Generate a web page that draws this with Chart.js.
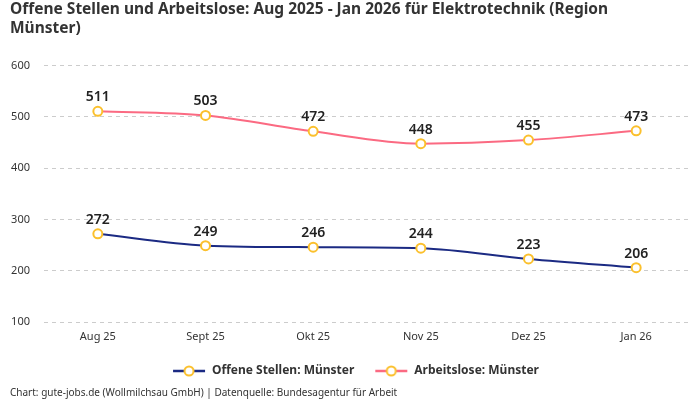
<!DOCTYPE html>
<html>
<head>
<meta charset="utf-8">
<script src="https://cdn.jsdelivr.net/npm/chart.js@4"></script>
<style>
html,body{margin:0;padding:0;background:#fff;}
#wrap{width:700px;height:400px;}
</style>
</head>
<body>
<div id="wrap"><canvas id="c"></canvas></div>
<script>
const categories = ['Aug 25','Sept 25','Okt 25','Nov 25','Dez 25','Jan 26'];
const offeneStellen = [272, 249, 246, 244, 223, 206];
const arbeitslose = [511, 503, 472, 448, 455, 473];
const yTicks = [100, 200, 300, 400, 500, 600];

const FONT = "'Noto Sans', Roboto, sans-serif";
const NAVY = '#1b2a83';
const PINK = '#fb6a82';
const YELLOW = '#fbc02d';
const ICON_MARGIN = 11;

function legendIcon(color){
  const dpr = window.devicePixelRatio || 1;
  const w = 34 + ICON_MARGIN, h = 14;
  const cv = document.createElement('canvas');
  cv.width = w*dpr; cv.height = h*dpr;
  const ctx = cv.getContext('2d');
  ctx.scale(dpr,dpr);
  const x0 = ICON_MARGIN;
  ctx.strokeStyle = color; ctx.lineWidth = 2.5;
  ctx.beginPath(); ctx.moveTo(x0+1,h/2); ctx.lineTo(w-1,h/2); ctx.stroke();
  ctx.fillStyle = '#fff'; ctx.strokeStyle = YELLOW; ctx.lineWidth = 2;
  ctx.beginPath(); ctx.arc(x0+17,h/2,4.5,0,Math.PI*2); ctx.fill(); ctx.stroke();
  const img = new Image(w,h);
  img.src = cv.toDataURL();
  return img;
}

const valueLabels = {
  id:'valueLabels',
  afterDatasetsDraw(chart){
    const ctx = chart.ctx;
    ctx.save();
    ctx.font = "600 14px " + FONT;
    ctx.fillStyle = '#222';
    ctx.textAlign = 'center';
    ctx.textBaseline = 'bottom';
    chart.data.datasets.forEach((ds,i)=>{
      chart.getDatasetMeta(i).data.forEach((pt,j)=>{
        ctx.fillText(String(ds.data[j]), pt.x, pt.y - 7);
      });
    });
    ctx.restore();
  }
};

const iconNavy = legendIcon(NAVY);
const iconPink = legendIcon(PINK);

function build(){
new Chart(document.getElementById('c'), {
  type:'line',
  data:{
    labels: categories,
    datasets:[
      {label:'Offene Stellen: Münster', data: offeneStellen, borderColor: NAVY, backgroundColor: NAVY,
       borderWidth:2, cubicInterpolationMode:'monotone', pointRadius:4.5, pointBorderWidth:2,
       pointBorderColor: YELLOW, pointBackgroundColor:'#fff', pointStyle: 'circle'},
      {label:'Arbeitslose: Münster', data: arbeitslose, borderColor: PINK, backgroundColor: PINK,
       borderWidth:2, cubicInterpolationMode:'monotone', pointRadius:4.5, pointBorderWidth:2,
       pointBorderColor: YELLOW, pointBackgroundColor:'#fff', pointStyle: 'circle'}
    ]
  },
  options:{
    responsive:true, maintainAspectRatio:false, animation:false,
    layout:{padding:{left:10,right:10,top:0,bottom:0}},
    scales:{
      x:{offset:true, grid:{display:false, drawTicks:false}, border:{display:false},
         afterFit(s){ s.paddingLeft = 0; s.paddingRight = 0; s.height = 34; },
         ticks:{color:'#333', font:{family:FONT,size:11}, padding:8}},
      y:{min:100, max:600, afterBuildTicks(ax){ ax.ticks = yTicks.map(v=>({value:v})); },
         afterFit(s){ s.width = 34; },
         grid:{color:'#cccccc', drawTicks:false, tickLength:0}, border:{display:false, dash:[4,4]},
         ticks:{color:'#333', font:{family:FONT,size:11}, padding:14}}
    },
    plugins:{
      title:{display:true, align:'start', color:'#333',
        text:['Offene Stellen und Arbeitslose: Aug 2025 - Jan 2026 für Elektrotechnik (Region','Münster)'],
        font:{family:FONT, size:15.5, weight:'bold', lineHeight:1.25}, padding:{top:0,bottom:27}},
      subtitle:{display:true, position:'bottom', align:'start', color:'#333',
        text:'Chart: gute-jobs.de (Wollmilchsau GmbH) | Datenquelle: Bundesagentur für Arbeit',
        font:{family:FONT,size:10}, padding:{top:0,bottom:1}},
      legend:{position:'bottom', labels:{usePointStyle:true, pointStyleWidth:34+ICON_MARGIN, boxHeight:14, color:'#333',
        font:{family:FONT,size:12,weight:'bold'}, padding:9,
        generateLabels(chart){
          return chart.data.datasets.map((ds,i)=>({text:ds.label, pointStyle: i===0?iconNavy:iconPink,
            fillStyle:'#fff', strokeStyle:ds.borderColor, lineWidth:0, datasetIndex:i, fontColor:'#333'}));
        }}},
      tooltip:{enabled:false}
    }
  },
  plugins:[valueLabels]
});
}
let loaded = 0;
[iconNavy, iconPink].forEach(im=>{ if (im.complete) loaded++; else im.onload=()=>{ if(++loaded===2) build(); }; });
if (loaded===2) build();
</script>
</body>
</html>
